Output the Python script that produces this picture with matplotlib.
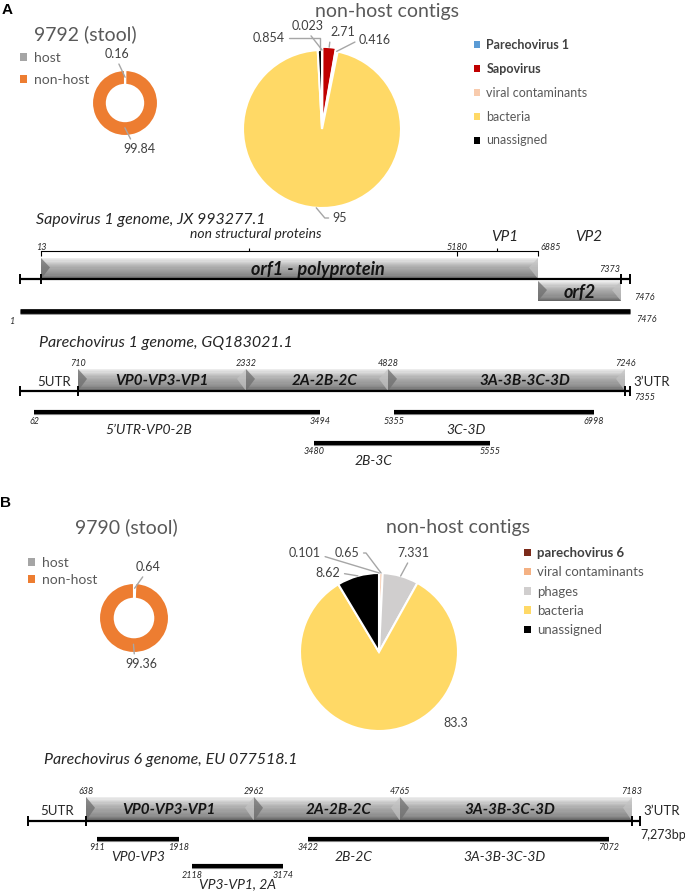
import numpy as np
import matplotlib
matplotlib.use("Agg")
import matplotlib.pyplot as plt
from matplotlib.patches import Patch, Polygon
from matplotlib.colors import LinearSegmentedColormap

plt.rcParams['font.family'] = ['Lato', 'DejaVu Sans']

W, H = 685, 892

# ---------------- data ----------------
host_labels = ['host', 'non-host']
host_colors = ['#A5A5A5', '#ED7D31']
host_a = [0.16, 99.84]
host_b = [0.64, 99.36]

contig_a_labels = ['Parechovirus 1', 'Sapovirus', 'viral contaminants', 'bacteria', 'unassigned']
contig_a_colors = ['#5B9BD5', '#C00000', '#F8CBAD', '#FFD966', '#000000']
contig_a = [0.023, 2.71, 0.416, 95, 0.854]

contig_b_labels = ['parechovirus 6', 'viral contaminants', 'phages', 'bacteria', 'unassigned']
contig_b_colors = ['#7B2A1A', '#F4B183', '#D0CECE', '#FFD966', '#000000']
contig_b = [0.101, 0.65, 7.331, 83.3, 8.62]

sapo_title = 'Sapovirus 1 genome, JX 993277.1'
sapo_length = 7476
sapo_orf_start = [13, 6885]
sapo_orf_end = [6885, 7373]
sapo_orf_names = ['orf1 - polyprotein', 'orf2']
sapo_protein_bounds = [13, 5180, 6885]
sapo_protein_names = ['non structural proteins', 'VP1', 'VP2']
sapo_contig_start = [1]
sapo_contig_end = [7476]

p1_title = 'Parechovirus 1 genome, GQ183021.1'
p1_length = 7355
p1_bounds = [710, 2332, 4828, 7246]
p1_genes = ['VP0-VP3-VP1', '2A-2B-2C', '3A-3B-3C-3D']
p1_contig_start = [62, 5355, 3480]
p1_contig_end = [3494, 6998, 5555]
p1_contig_row = [0, 0, 1]
p1_contig_names = ['5’UTR-VP0-2B', '3C-3D', '2B-3C']

p6_title = 'Parechovirus 6 genome, EU 077518.1'
p6_length = 7273
p6_bounds = [638, 2962, 4765, 7183]
p6_genes = ['VP0-VP3-VP1', '2A-2B-2C', '3A-3B-3C-3D']
p6_contig_start = [911, 3422, 2118]
p6_contig_end = [1918, 7072, 3174]
p6_contig_row = [0, 0, 1]
p6_contig_names = ['VP0-VP3', '2B-2C|3A-3B-3C-3D', 'VP3-VP1, 2A']

# schematic (not to scale) genome axes: reference bp -> pixel column
sapo_axis = ([1, 13, 5180, 6885, 7373, 7476], [20, 41, 457, 538, 621, 630])
p1_axis = ([1, 62, 710, 2332, 3480, 3494, 4828, 5355, 5555, 6998, 7246, 7355],
           [20, 34, 78, 246, 314, 320, 388, 394, 490, 594, 625, 630])
p6_axis = ([1, 638, 911, 1918, 2118, 2962, 3174, 3422, 4765, 7072, 7183, 7273],
           [28, 86, 97, 179, 192, 254, 283, 308, 400, 609, 632, 640])

GRAY_TXT = '#595959'
LBL_TXT = '#404040'
LEADER = '#A6A6A6'
DARK = '#262626'

fig = plt.figure(figsize=(W / 100, H / 100), dpi=100)


def ftext(x, y, s, **kw):
    return fig.text(x / W, 1 - y / H, s, **kw)


def piecewise(xp, yp):
    xp = np.asarray(xp, float)
    yp = np.asarray(yp, float)

    def f(x):
        x = np.asarray(x, float)
        y = np.interp(x, xp, yp)
        s0 = (yp[1] - yp[0]) / (xp[1] - xp[0])
        s1 = (yp[-1] - yp[-2]) / (xp[-1] - xp[-2])
        y = np.where(x < xp[0], yp[0] + (x - xp[0]) * s0, y)
        y = np.where(x > xp[-1], yp[-1] + (x - xp[-1]) * s1, y)
        return y
    return f


def genome_axes(bp, px):
    fwd = piecewise(bp, px)
    inv = piecewise(px, bp)
    ax = fig.add_axes([0, 0, 1, 1])
    ax.set_xscale('function', functions=(fwd, inv))
    ax.set_xlim(float(inv(0)), float(inv(W)))
    ax.set_ylim(H, 0)
    ax.axis('off')
    return ax, fwd, inv


box_cmap = LinearSegmentedColormap.from_list(
    'box', ['#ececec', '#d2d2d2', '#b8b8b8', '#a6a6a6', '#9a9a9a', '#8a8a8a', '#666666'])


def gene_box(ax, fwd, inv, x0, x1, top, bot, label, fs=10.5):
    n = 18
    ys = np.linspace(top, bot, n + 1)
    for i in range(n):
        ax.fill_between([x0, x1], ys[i], ys[i + 1], color=box_cmap(i / (n - 1)), lw=0, zorder=2)
    b0 = float(inv(fwd(x0) + 9)) - x0
    b1 = x1 - float(inv(fwd(x1) - 9))
    h = bot - top
    ax.add_patch(Polygon([(x0, top), (x0 + b0, top + 0.45 * h), (x0, bot)],
                         closed=True, fc='#6e6e6e', ec='none', alpha=0.75, zorder=3))
    ax.add_patch(Polygon([(x1, top), (x1 - b1, top + 0.45 * h), (x1, bot)],
                         closed=True, fc='#c4c4c4', ec='none', alpha=0.7, zorder=3))
    ax.text((x0 + x1) / 2, (top + bot) / 2 + 1, label, ha='center', va='center', fontsize=fs,
            fontweight='bold', fontstyle='italic', color='#141414', zorder=4)


def backbone(ax, start, end, y, ticks):
    ax.plot([start, end], [y, y], color='black', lw=1.6, zorder=5, solid_capstyle='butt')
    ax.vlines(ticks, y - 5, y + 5, color='black', lw=1.4, zorder=5)


def contig(ax, s, e, y, lw=3.0):
    ax.plot([s, e], [y + 1.2, y + 1.2], color='#8c8c8c', lw=lw, solid_capstyle='butt', zorder=4)
    ax.plot([s, e], [y, y], color='black', lw=lw, solid_capstyle='butt', zorder=5)


def small_num(ax, x, y, s, dx=0, ha='center', fs=6.5):
    ax.annotate(s, xy=(x, y), xytext=(dx, 0), textcoords='offset pixels', ha=ha, va='center',
                fontsize=fs, fontstyle='italic', color=DARK)


# ---------------- panel letters ----------------
ftext(2, 10, 'A', fontsize=11, fontweight='bold', va='center', ha='left', family=['Liberation Sans'])
ftext(0, 503, 'B', fontsize=11, fontweight='bold', va='center', ha='left', family=['Liberation Sans'])


# ---------------- pies ----------------
def pie_axes(cx, cy, r):
    return fig.add_axes([(cx - r) / W, 1 - (cy + r) / H, 2 * r / W, 2 * r / H])


def edge(w, frac=1.0):
    ang = np.deg2rad((w.theta1 + w.theta2) / 2)
    return (w.center[0] + frac * w.r * np.cos(ang), w.center[1] + frac * w.r * np.sin(ang))


def leader(ax, w, s, tx, ty, frac=1.0, conn='arc3', relpos=(0.5, 0.5), line=True):
    arrow = dict(arrowstyle='-', color=LEADER, lw=1, connectionstyle=conn, relpos=relpos,
                 shrinkA=1, shrinkB=0) if line else None
    ax.annotate(s, xy=edge(w, frac), xytext=(tx, H - ty), textcoords='figure pixels',
                ha='center', va='center', fontsize=9, color=LBL_TXT, arrowprops=arrow,
                annotation_clip=False)


def legend(ax, labels, colors, x, y, fs, spacing, bold=()):
    handles = [Patch(facecolor=c, edgecolor='none') for c in colors]
    lg = ax.legend(handles, labels, loc='upper left', bbox_to_anchor=(x / W, 1 - y / H),
                   bbox_transform=fig.transFigure, frameon=False, fontsize=fs,
                   handlelength=0.5, handleheight=0.5, handletextpad=0.5,
                   labelspacing=spacing, borderaxespad=0, borderpad=0)
    for i, t in enumerate(lg.get_texts()):
        t.set_color(GRAY_TXT)
        if i in bold:
            t.set_fontweight('bold')
            t.set_color(LBL_TXT)
    return lg


def donut(values, cx, cy, r):
    ax = pie_axes(cx, cy, r)
    wedges, _ = ax.pie(values, colors=host_colors, startangle=90, counterclock=False, radius=1,
                       wedgeprops=dict(width=0.45, edgecolor='white', linewidth=1.5))
    ax.set_xlim(-1, 1)
    ax.set_ylim(-1, 1)
    return ax, wedges


# A: donut
ftext(85, 34, '9792 (stool)', fontsize=14, color=GRAY_TXT, ha='center', va='center')
ax, w = donut(host_a, 125, 103, 33)
legend(ax, host_labels, host_colors, 20, 52, 10, 0.7)
leader(ax, w[0], f'{host_a[0]:g}', 117, 54, frac=0.78, relpos=(0.5, 0))
leader(ax, w[1], f'{host_a[1]:g}', 139, 149, frac=0.75, relpos=(0.3, 1))

# A: contigs pie
ftext(387, 11, 'non-host contigs', fontsize=14, color=GRAY_TXT, ha='center', va='center')
ax = pie_axes(322, 129, 79)
wa, _ = ax.pie(contig_a, colors=contig_a_colors, startangle=90, counterclock=False, radius=1,
               explode=[0, 0.04, 0, 0, 0], wedgeprops=dict(edgecolor='white', linewidth=1.5))
for wd in wa:
    wd.set_clip_on(False)
ax.set_xlim(-1, 1)
ax.set_ylim(-1, 1)
legend(ax, contig_a_labels, contig_a_colors, 474, 39, 9, 0.95, bold=(0, 1))
leader(ax, wa[0], f'{contig_a[0]:g}', 308, 26, relpos=(0.5, 0))
leader(ax, wa[1], f'{contig_a[1]:g}', 343, 32, relpos=(0.0, 0.2))
leader(ax, wa[2], f'{contig_a[2]:g}', 375, 40, relpos=(0.0, 0.5))
leader(ax, wa[3], f'{contig_a[3]:g}', 340, 218, relpos=(0.0, 0.5),
       conn='angle,angleA=0,angleB=130,rad=0')
leader(ax, wa[4], f'{contig_a[4]:g}', 269, 38, relpos=(1.0, 0.5),
       conn='angle,angleA=0,angleB=90,rad=0')

# B: donut
ftext(126, 527, '9790 (stool)', fontsize=14, color=GRAY_TXT, ha='center', va='center')
ax, w = donut(host_b, 134, 618, 35)
legend(ax, host_labels, host_colors, 28, 557, 10, 0.35)
leader(ax, w[0], f'{host_b[0]:g}', 148, 567, frac=0.85, relpos=(0.4, 0))
leader(ax, w[1], f'{host_b[1]:g}', 141, 664, frac=0.75, relpos=(0.3, 1))

# B: contigs pie
ftext(458, 527, 'non-host contigs', fontsize=14, color=GRAY_TXT, ha='center', va='center')
ax = pie_axes(379, 652, 79)
wb, _ = ax.pie(contig_b, colors=contig_b_colors, startangle=90, counterclock=False, radius=1,
               wedgeprops=dict(edgecolor='white', linewidth=1.5))
for wd in wb:
    wd.set_clip_on(False)
ax.set_xlim(-1, 1)
ax.set_ylim(-1, 1)
legend(ax, contig_b_labels, contig_b_colors, 524, 547, 9.5, 0.55, bold=(0,))
leader(ax, wb[0], f'{contig_b[0]:g}', 305, 553, relpos=(1.0, 0.3))
leader(ax, wb[1], f'{contig_b[1]:g}', 347, 553, relpos=(1.0, 0.5),
       conn='angle,angleA=0,angleB=127,rad=0')
leader(ax, wb[2], f'{contig_b[2]:g}', 413, 553, relpos=(0.4, 0))
leader(ax, wb[3], f'{contig_b[3]:g}', 456, 723, line=False)
leader(ax, wb[4], f'{contig_b[4]:g}', 328, 573, relpos=(1.0, 0.5))

# ---------------- Sapovirus genome ----------------
ax, fwd, inv = genome_axes(*sapo_axis)
ftext(36, 224, sapo_title, fontsize=11.5, fontstyle='italic', color=DARK, va='baseline')
yb = 251
ax.plot([sapo_protein_bounds[0], sapo_protein_bounds[-1]], [yb, yb], color='black', lw=0.8)
ax.vlines(sapo_protein_bounds, yb, yb + 5, color='black', lw=0.8)
for i, b in enumerate(sapo_protein_bounds):
    if i == len(sapo_protein_bounds) - 1:
        small_num(ax, b, yb - 4, str(b), dx=2, ha='left')
    else:
        small_num(ax, b, yb - 4, str(b))
for i, name in enumerate(sapo_protein_names[:2]):
    lo, hi = sapo_protein_bounds[i], sapo_protein_bounds[i + 1]
    mid = (lo + hi) / 2
    ax.vlines([mid], yb - 3, yb, color='black', lw=0.8)
    ax.annotate(name, xy=(mid, 237 - (i == 0) * 3), xytext=(7, 0), textcoords='offset pixels',
                ha='center', va='center', fontsize=10 if i == 0 else 11, fontstyle='italic', color=DARK)
ax.annotate(sapo_protein_names[2], xy=((sapo_orf_start[1] + sapo_length) / 2, 237), ha='center',
            va='center', fontsize=11, fontstyle='italic', color=DARK)

orf_rows = [(258, 279), (281, 301)]
for i in range(len(sapo_orf_names)):
    top, bot = orf_rows[i]
    gene_box(ax, fwd, inv, sapo_orf_start[i], sapo_orf_end[i], top, bot, sapo_orf_names[i], fs=13)
backbone(ax, 1, sapo_length, 279, [1, sapo_orf_start[0], sapo_orf_end[-1], sapo_length])
small_num(ax, sapo_orf_end[-1], 270, str(sapo_orf_end[-1]), dx=-1, ha='right')
small_num(ax, sapo_length, 297, str(sapo_length), dx=4, ha='left')
for s, e in zip(sapo_contig_start, sapo_contig_end):
    contig(ax, s, e, 311, lw=3.4)
    small_num(ax, s, 321, str(s), dx=-8)
    small_num(ax, e, 319, str(e), dx=6, ha='left')


# ---------------- Parechovirus genomes ----------------
def parecho(axis, title, tx, ty, length, bounds, genes, cs, ce, rows, names,
            top, bot, num_y, row_y, name_dx, end_label, end_y):
    ax, fwd, inv = genome_axes(*axis)
    ftext(tx, ty, title, fontsize=11.5, fontstyle='italic', color=DARK, va='baseline')
    for i, g in enumerate(genes):
        gene_box(ax, fwd, inv, bounds[i], bounds[i + 1], top, bot, g, fs=11)
    for b in bounds:
        small_num(ax, b, num_y, str(b))
    backbone(ax, 1, length, bot, [1, bounds[0], bounds[-1], length])
    mid_y = (top + bot) / 2 + 2
    ax.text((1 + bounds[0]) / 2, mid_y, '5UTR', ha='center', va='center', fontsize=9.5, color=DARK)
    ax.annotate('3’UTR', xy=(length, mid_y), xytext=(3, 0), textcoords='offset pixels',
                ha='left', va='center', fontsize=9.5, color=DARK)
    digits = end_label.isdigit()
    ax.annotate(end_label, xy=(length, end_y), xytext=(4 if digits else 0, 0), textcoords='offset pixels',
                ha='left', va='center', fontsize=6.5 if digits else 9,
                fontstyle='italic' if digits else 'normal', color=DARK)
    for s, e, r, nm in zip(cs, ce, rows, names):
        y = row_y[r]
        contig(ax, s, e, y)
        small_num(ax, s, y + 9, str(s))
        small_num(ax, e, y + 9, str(e))
        inner = [b for b in bounds if s < b < e]
        parts = nm.split('|')
        edges = [s] + inner[:len(parts) - 1] + [e]
        for k, p in enumerate(parts):
            lo, hi = edges[k], edges[k + 1]
            xm = float(inv((fwd(lo) + fwd(hi)) / 2))
            ax.annotate(p, xy=(xm, y + 18), xytext=(name_dx, 0), textcoords='offset pixels',
                        ha='center', va='center', fontsize=10, fontstyle='italic', color=DARK)
    return ax


parecho(p1_axis, p1_title, 39, 347, p1_length, p1_bounds, p1_genes, p1_contig_start,
        p1_contig_end, p1_contig_row, p1_contig_names, 369, 391, 364, [412, 443], -28,
        str(p1_length), 398)
parecho(p6_axis, p6_title, 44, 764, p6_length, p6_bounds, p6_genes, p6_contig_start,
        p6_contig_end, p6_contig_row, p6_contig_names, 797, 821, 792, [839, 866], 0,
        '7,273bp', 835)

fig.savefig('out.png', dpi=100)
